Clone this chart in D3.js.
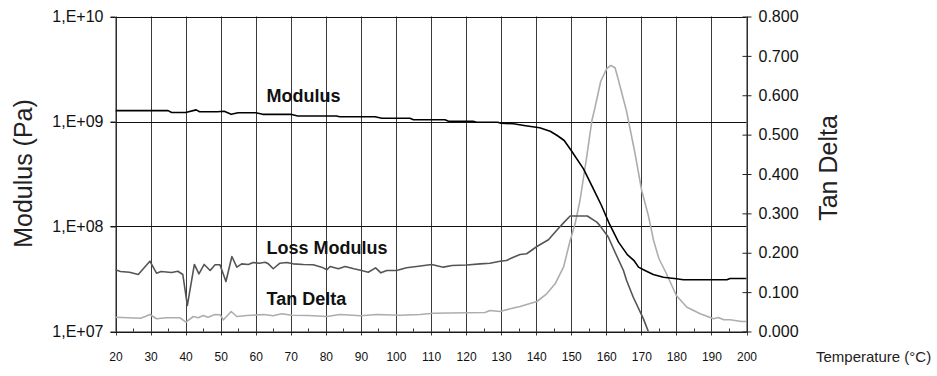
<!DOCTYPE html>
<html><head><meta charset="utf-8">
<script src="https://cdn.jsdelivr.net/npm/d3@7/dist/d3.min.js"></script>
<style>body{margin:0;background:#fff}svg{display:block}text{font-family:"Liberation Sans",Arial,Helvetica,sans-serif}</style>
</head><body><svg id="c" width="937" height="376"></svg>
<script>
// ---- data ----
const xTicks = [20,30,40,50,60,70,80,90,100,110,120,130,140,150,160,170,180,190,200];
const modulusTicks = [1e7,1e8,1e9,1e10];
const tanTicks = [0,0.1,0.2,0.3,0.4,0.5,0.6,0.7,0.8];

const modT = [20,35,36,40,43,44,49,51,53,55,60,62,70,72,83,84,94,96,104,105,114,115,122,123,129,130,133.5,137,141,144,146,148,150,153.5,156,158.5,161,163.5,166,168,169.2,170.6,173.4,176.3,180,182,194.4,195.3,200];
const modV = [1.27e9,1.27e9,1.22e9,1.22e9,1.29e9,1.24e9,1.24e9,1.25e9,1.17e9,1.21e9,1.21e9,1.17e9,1.17e9,1.13e9,1.13e9,1.11e9,1.11e9,1.075e9,1.075e9,1.04e9,1.04e9,1.007e9,1.007e9,0.985e9,0.985e9,0.963e9,0.951e9,0.91e9,0.871e9,0.808e9,0.736e9,0.659e9,0.53e9,3.54e8,2.4e8,1.62e8,1.04e8,7.1e7,5.4e7,4.7e7,4.1e7,3.87e7,3.49e7,3.29e7,3.18e7,3.11e7,3.11e7,3.2e7,3.2e7];

const lossT = [20,21.4,24,26.5,29.8,31.7,33,36,37.8,39.2,40.5,42.5,43.8,45.3,47,48.4,49.8,51.5,53.2,54.6,56,57.9,59.3,61,62.7,63.6,65,66.9,68.8,70.7,73.6,76.4,78.8,80.3,81.2,83.6,85.5,88,90.2,92.1,94.2,95.7,97.4,100.2,103,105.9,110.2,113.5,116,120.2,124,126.8,129.7,131.5,133.5,135.4,137.3,140.2,143.5,146,148,149.7,152,154.6,157.3,158.2,160.6,162.5,164.9,165.8,167.7,170.6,172];
const lossV = [3.87e7,3.73e7,3.67e7,3.49e7,4.67e7,3.59e7,3.73e7,3.65e7,3.75e7,3.49e7,1.77e7,4.35e7,3.54e7,4.35e7,3.81e7,4.32e7,4.32e7,2.99e7,5.18e7,4.10e7,4.41e7,4.35e7,4.54e7,4.47e7,4.57e7,4.41e7,3.96e7,4.47e7,4.54e7,4.41e7,4.35e7,4.32e7,4.10e7,3.87e7,4.16e7,3.96e7,4.16e7,3.96e7,3.81e7,3.67e7,4.04e7,3.62e7,3.81e7,3.81e7,4.04e7,4.16e7,4.35e7,4.10e7,4.25e7,4.30e7,4.41e7,4.47e7,4.67e7,4.75e7,5.10e7,5.41e7,5.50e7,6.45e7,7.47e7,9.3e7,1.1e8,1.26e8,1.26e8,1.26e8,1.10e8,1.02e8,7.9e7,5.69e7,3.81e7,3.06e7,2.12e7,1.32e7,1.0e7];

const tanT = [20,27.1,28.5,29.8,31.7,34.5,38.4,40.1,42.2,43.6,45,46.4,48.4,49.8,50.8,53,54.6,57.5,62.2,65,67.4,70.3,75,80.3,84,90,94.5,101.2,106.9,110.7,120.2,125.4,126.8,129.7,132.6,135.4,140.2,143,145.4,147.8,149.7,151.1,152.5,154.4,155.9,156.8,158.4,160.1,161.3,162.5,163.5,165.8,168.2,170.1,172,173.5,175,177,180,183,186.8,190.6,192,193.5,195.3,198.6,200];
const tanV = [0.0363,0.0338,0.0381,0.0432,0.0323,0.0348,0.0348,0.0236,0.0381,0.0348,0.0406,0.0363,0.0432,0.0425,0.0297,0.0508,0.0381,0.0406,0.0432,0.0399,0.045,0.0414,0.0406,0.0381,0.0432,0.0399,0.0432,0.0414,0.0432,0.0465,0.0475,0.0483,0.0533,0.0508,0.0577,0.0635,0.0762,0.0957,0.1211,0.1633,0.2311,0.2735,0.3327,0.4427,0.5359,0.5696,0.635,0.6672,0.6756,0.6697,0.6375,0.5587,0.452,0.3581,0.2946,0.2311,0.1854,0.1498,0.0914,0.0617,0.045,0.0323,0.0356,0.0297,0.0297,0.0254,0.0254];

// ---- layout ----
const L = 115.5, R = 746.5, T = 16.5, B = 331.5;
const svg = d3.select("#c");
const x = d3.scaleLinear().domain([20,200]).range([L,R]);
const y = d3.scaleLog().domain([1e7,1e10]).range([B,T]);
const yR = d3.scaleLinear().domain([0,0.8]).range([B,T]);

const g = svg.append("g");
// vertical gridlines
g.selectAll("line.vg").data(xTicks).join("line")
  .attr("x1",d=>Math.round(x(d))+0.5).attr("x2",d=>Math.round(x(d))+0.5)
  .attr("y1",T).attr("y2",B+4)
  .attr("stroke","#3a3a3a").attr("stroke-width",1);
// horizontal gridlines
g.selectAll("line.hg").data(modulusTicks).join("line")
  .attr("x1",L-5).attr("x2",R).attr("y1",d=>Math.round(y(d))+0.5).attr("y2",d=>Math.round(y(d))+0.5)
  .attr("stroke","#111").attr("stroke-width",1);
// minor x ticks
g.selectAll("line.mt").data(d3.range(25,200,10)).join("line")
  .attr("x1",d=>Math.round(x(d))+0.5).attr("x2",d=>Math.round(x(d))+0.5)
  .attr("y1",B-3).attr("y2",B).attr("stroke","#333");

// left axis
const ax = svg.append("g").attr("transform",`translate(${L},0)`)
  .call(d3.axisLeft(y).tickValues(modulusTicks).tickSize(5).tickSizeOuter(0).tickPadding(7)
    .tickFormat(d=>"1,E+"+String(Math.round(Math.log10(d))).padStart(2,"0")));
ax.select(".domain").attr("stroke","#222");
ax.selectAll("text").attr("font-size",16).attr("fill","#111").style("font-family",'"Liberation Sans",Arial,sans-serif');
ax.selectAll(".tick line").attr("stroke","#222");

// right axis
const axR = svg.append("g").attr("transform",`translate(${R},0)`)
  .call(d3.axisRight(yR).tickValues(tanTicks).tickSize(5).tickSizeOuter(0).tickPadding(7).tickFormat(d3.format(".3f")));
axR.select(".domain").attr("stroke","#222");
axR.selectAll(".tick line").attr("x1",-4).attr("stroke","#222");
axR.selectAll("text").attr("font-size",16).attr("fill","#111").style("font-family",'"Liberation Sans",Arial,sans-serif');

// bottom axis
const axB = svg.append("g").attr("transform",`translate(0,${B})`)
  .call(d3.axisBottom(x).tickValues(xTicks).tickSize(0).tickSizeOuter(0).tickPadding(21));
axB.select(".domain").attr("stroke","#222");
axB.selectAll("text").attr("font-size",12).attr("fill","#111").style("font-family",'"Liberation Sans Narrow","Liberation Sans",Arial,sans-serif');

// lines
const clip = svg.append("clipPath").attr("id","pc").append("rect").attr("x",L).attr("y",T-2).attr("width",R-L).attr("height",B-T+2);
const lineLog = d3.line().x(d=>x(d[0])).y(d=>y(d[1]));
const lineLin = d3.line().x(d=>x(d[0])).y(d=>yR(d[1]));
const plot = svg.append("g").attr("clip-path","url(#pc)");
plot.append("path").datum(d3.zip(tanT,tanV)).attr("d",lineLin).attr("fill","none").attr("stroke","#adadad").attr("stroke-width",1.6).attr("stroke-linejoin","round");
plot.append("path").datum(d3.zip(lossT,lossV)).attr("d",lineLog).attr("fill","none").attr("stroke","#555").attr("stroke-width",1.6).attr("stroke-linejoin","round");
plot.append("path").datum(d3.zip(modT,modV)).attr("d",lineLog).attr("fill","none").attr("stroke","#000").attr("stroke-width",1.6).attr("stroke-linejoin","round");

// series labels
const lab = [["Modulus",101.5],["Loss Modulus",254],["Tan Delta",305]];
svg.selectAll("text.lab").data(lab).join("text").attr("class","lab")
  .attr("x",266.5).attr("y",d=>d[1]).text(d=>d[0])
  .attr("font-size",18).attr("font-weight","bold").attr("fill","#111");

// axis titles
svg.append("text").attr("transform","translate(32,173.5) rotate(-90)").attr("text-anchor","middle")
  .attr("font-size",25).attr("fill","#222").text("Modulus (Pa)");
svg.append("text").attr("transform","translate(837,168) rotate(-90)").attr("text-anchor","middle")
  .attr("font-size",25).attr("fill","#222").text("Tan Delta");
svg.append("text").attr("x",816).attr("y",362).attr("font-size",15).attr("fill","#222").text("Temperature (°C)");
</script></body></html>
